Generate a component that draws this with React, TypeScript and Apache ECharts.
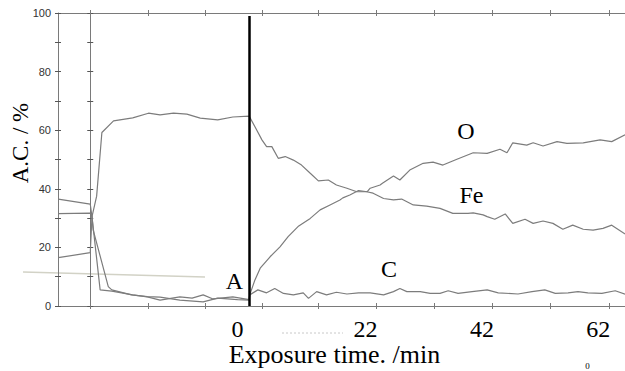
import React, { useEffect, useRef } from "react";
import * as echarts from "echarts";

// Data (x: exposure time in min as labelled on the axis, y: A.C. / %)
const feData: number[][] = [
  [-30.8, 16.5], [-25.3, 18.2], [-25.0, 30.5], [-24.2, 37.5], [-23.3, 59.2], [-21.3, 63.2],
  [-18.0, 64.2], [-15.3, 65.8], [-13.3, 65.2], [-11.0, 65.8], [-8.7, 65.5], [-6.4, 64.1],
  [-3.4, 63.5], [-0.8, 64.5], [2.0, 64.8],
  [3.0, 61.2], [4.2, 56.7], [5.0, 54.4], [5.9, 54.4], [7.0, 50.4], [8.2, 51.0], [9.6, 49.8],
  [11.0, 48.1], [12.5, 45.3], [13.9, 42.7], [15.6, 43.0], [17.0, 41.3], [18.8, 40.2],
  [20.5, 39.0], [22.2, 39.0], [23.3, 38.5], [25.1, 36.7], [26.8, 36.2], [28.2, 36.5],
  [30.2, 34.5], [32.5, 34.1], [34.8, 33.3], [37.0, 31.6], [39.6, 31.6], [40.5, 31.8],
  [42.2, 31.1], [42.9, 30.5], [44.2, 29.6], [46.0, 31.4], [47.3, 28.2], [49.4, 29.6],
  [50.8, 28.2], [52.5, 29.0], [54.2, 28.2], [55.9, 26.2], [57.6, 27.6], [59.4, 26.2],
  [61.1, 25.9], [62.8, 26.5], [64.3, 27.6], [66.6, 24.6],
];

const oData: number[][] = [
  [-30.8, 36.5], [-25.3, 34.8], [-25.0, 30.5], [-23.6, 5.5], [-21.6, 5.1], [-18.0, 3.8],
  [-15.5, 3.1], [-13.3, 2.0], [-9.9, 3.1], [-7.8, 2.7], [-5.9, 3.8], [-4.2, 2.4], [-0.8, 3.1],
  [2.0, 2.2],
  [2.1, 3.8], [3.0, 8.9], [3.9, 12.9], [5.6, 16.8], [7.3, 20.2], [8.7, 23.7], [10.4, 27.1],
  [12.5, 29.9], [14.2, 32.8], [15.9, 34.5], [17.6, 36.2], [18.1, 36.9], [19.3, 37.9],
  [20.8, 39.4], [22.3, 39.0], [22.8, 40.2], [24.5, 41.3], [24.9, 41.9], [26.8, 44.4],
  [27.9, 43.0], [29.6, 46.4], [31.9, 48.7], [33.6, 49.1], [35.3, 48.1], [37.7, 50.1],
  [40.5, 52.3], [42.9, 52.1], [45.1, 53.5], [46.3, 52.3], [47.3, 55.7], [49.7, 54.9],
  [50.8, 55.7], [52.5, 54.6], [54.9, 56.1], [56.6, 55.5], [59.4, 55.7], [62.3, 56.7],
  [64.3, 56.1], [66.6, 58.4],
];

const cData: number[][] = [
  [-30.8, 31.5], [-25.3, 31.7], [-25.0, 30.5], [-24.8, 26.0], [-22.2, 6.6], [-21.6, 5.5],
  [-18.2, 3.8], [-15.5, 3.2], [-13.3, 3.0], [-9.9, 2.0], [-5.9, 1.4], [-3.4, 2.7], [0.0, 2.2],
  [2.0, 2.0],
  [2.1, 3.8], [3.5, 5.5], [5.0, 4.5], [6.4, 6.0], [7.9, 4.3], [9.6, 3.8], [11.3, 4.5],
  [12.2, 2.6], [13.6, 4.9], [15.3, 3.8], [17.0, 4.7], [18.8, 4.1], [20.8, 4.5], [22.8, 4.5],
  [25.1, 3.8], [26.8, 4.9], [27.9, 6.0], [29.1, 4.9], [31.4, 4.9], [33.1, 4.3], [34.8, 4.3],
  [36.2, 5.2], [37.9, 4.3], [40.3, 4.9], [42.9, 5.5], [44.8, 4.5], [48.2, 4.1], [50.6, 4.9],
  [52.8, 5.5], [54.6, 4.3], [56.8, 4.5], [58.5, 4.9], [60.2, 4.5], [62.6, 4.3], [64.9, 5.2],
  [66.6, 4.0],
];

const exposureStart = 2.0;
const exposureLineTop = 99;
const xMin = -30.84;
const xMax = 66.58;
const xTickValues = [-25.3, -15.3, -5.5, 4.3, 13.8, 23.8, 33.8, 43.8, 53.8, 63.8];
const xTickLabels = [0, 22, 42, 62];
const yTickValues = [0, 10, 20, 30, 40, 50, 60, 70, 80, 90, 100];
const yTickLabels = [0, 20, 40, 60, 80, 100];
const secondLineX = -25.3;

const AXIS_COLOR = "#7a7a7a";
const CURVE_COLOR = "#7c7c7c";
const SERIF = "'Liberation Serif', 'Times New Roman', serif";

export default function App() {
  const ref = useRef<HTMLDivElement>(null);

  useEffect(() => {
    if (!ref.current) return;
    const chart = echarts.init(ref.current, null, { renderer: "svg" });

    const xAxisBase = (position: string, inside: boolean, showLine: boolean, showLabel: boolean) => ({
      type: "value",
      position,
      min: xMin,
      max: xMax,
      axisLine: { show: showLine, onZero: false, lineStyle: { color: AXIS_COLOR, width: 1 } },
      axisTick: {
        show: true,
        inside,
        length: 3,
        customValues: xTickValues,
        lineStyle: { color: AXIS_COLOR, width: 1 },
      },
      axisLabel: showLabel
        ? {
            show: true,
            customValues: xTickLabels,
            fontFamily: SERIF,
            fontSize: 24,
            color: "#000",
            margin: 11,
          }
        : { show: false },
      splitLine: { show: false },
    });

    const yAxisBase = (offset: number, inside: boolean, showLine: boolean, showLabel: boolean) => ({
      type: "value",
      position: "left",
      offset,
      min: 0,
      max: 100,
      axisLine: { show: showLine, onZero: false, lineStyle: { color: AXIS_COLOR, width: 1 } },
      axisTick: {
        show: true,
        inside,
        length: 3,
        customValues: yTickValues,
        lineStyle: { color: "#555", width: 1 },
      },
      axisLabel: showLabel
        ? {
            show: true,
            customValues: yTickLabels,
            fontFamily: "'Liberation Sans', Arial, sans-serif",
            fontSize: 11,
            color: "#333",
            margin: 7,
          }
        : { show: false },
      splitLine: { show: false },
    });

    const secondOffset = -(((secondLineX - xMin) / (xMax - xMin)) * 567);

    const lineSeries = (name: string, data: number[][]) => ({
      type: "line",
      name,
      data,
      xAxisIndex: 0,
      yAxisIndex: 0,
      showSymbol: false,
      symbol: "none",
      lineStyle: { color: CURVE_COLOR, width: 1.2 },
      silent: true,
    });

    const option: any = {
      animation: false,
      backgroundColor: "#fff",
      grid: { left: 58, right: 0, top: 13, bottom: 65 },
      xAxis: [
        xAxisBase("bottom", true, true, true),
        xAxisBase("bottom", false, false, false),
        xAxisBase("top", true, true, false),
        xAxisBase("top", false, false, false),
      ],
      yAxis: [
        yAxisBase(0, true, true, true),
        yAxisBase(0, false, false, false),
        yAxisBase(secondOffset, true, true, false),
        yAxisBase(secondOffset, false, false, false),
      ],
      series: [
        {
          ...lineSeries("Fe", feData),
          markLine: {
            silent: true,
            symbol: ["none", "none"],
            label: { show: false },
            lineStyle: { color: "#000", width: 2.5, type: "solid" },
            data: [[{ coord: [exposureStart, exposureLineTop] }, { coord: [exposureStart, 0] }]],
          },
        },
        lineSeries("O", oData),
        lineSeries("C", cData),
      ],
      graphic: [
        {
          type: "line",
          shape: { x1: 23, y1: 272, x2: 205, y2: 277 },
          style: { stroke: "#d2d2c6", lineWidth: 1.3 },
          silent: true,
          z: -1,
        },
        {
          type: "text",
          x: 20,
          y: 143,
          rotation: Math.PI / 2,
          style: {
            text: "A.C. / %",
            fontFamily: SERIF,
            fontSize: 23,
            fill: "#000",
            align: "center",
            verticalAlign: "middle",
          },
        },
        {
          type: "text",
          x: 334.5,
          y: 354,
          style: {
            text: "Exposure time. /min",
            fontFamily: SERIF,
            fontSize: 26,
            fill: "#000",
            align: "center",
            verticalAlign: "middle",
          },
        },
        { type: "text", x: 234.5, y: 281, style: { text: "A", fontFamily: SERIF, fontSize: 24, fill: "#000", align: "center", verticalAlign: "middle" } },
        { type: "text", x: 466, y: 131, style: { text: "O", fontFamily: SERIF, fontSize: 24, fill: "#000", align: "center", verticalAlign: "middle" } },
        { type: "text", x: 471.5, y: 194.5, style: { text: "Fe", fontFamily: SERIF, fontSize: 24, fill: "#000", align: "center", verticalAlign: "middle" } },
        { type: "text", x: 389, y: 268.5, style: { text: "C", fontFamily: SERIF, fontSize: 24, fill: "#000", align: "center", verticalAlign: "middle" } },
        { type: "text", x: 587.5, y: 370, style: { text: "0", fontFamily: SERIF, fontSize: 9, fill: "#000", align: "center", verticalAlign: "bottom" } },
        {
          type: "line",
          shape: { x1: 282, y1: 333, x2: 343, y2: 333 },
          style: { stroke: "#c8c8c8", lineWidth: 1, lineDash: [2, 2] },
          silent: true,
        },
      ],
    };

    chart.setOption(option);
    return () => chart.dispose();
  }, []);

  return (
    <div
      ref={ref}
      style={{ position: "fixed", left: 0, top: 0, width: 625, height: 371, background: "#fff" }}
    />
  );
}
